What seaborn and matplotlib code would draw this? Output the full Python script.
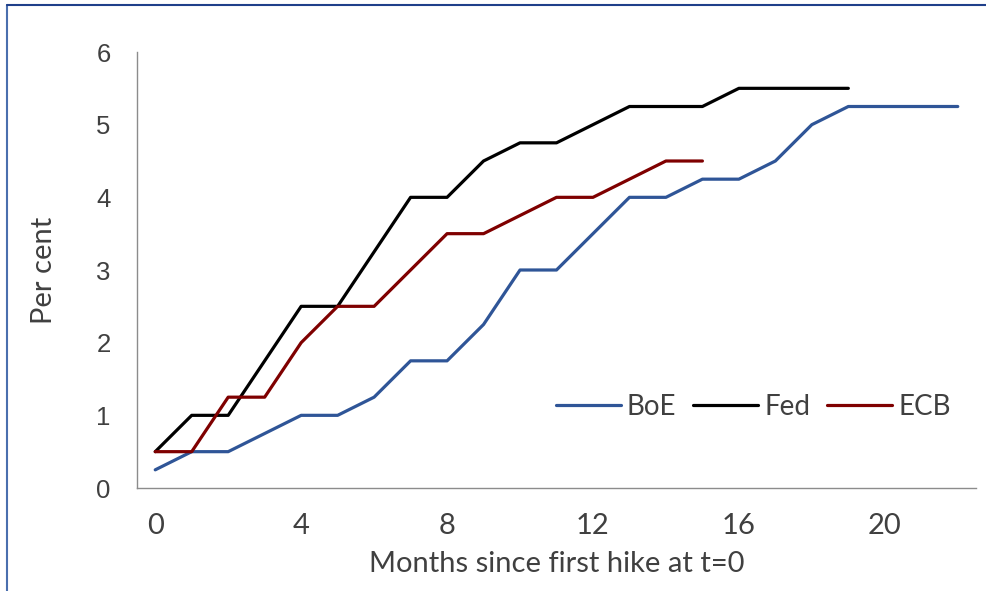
import numpy as np
import pandas as pd
import matplotlib
matplotlib.use("Agg")
import matplotlib.pyplot as plt
import seaborn as sns
from matplotlib.lines import Line2D

# ---- data ----
months_boe = list(range(0, 23))
boe = [0.25, 0.5, 0.5, 0.75, 1.0, 1.0, 1.25, 1.75, 1.75, 2.25, 3.0, 3.0,
       3.5, 4.0, 4.0, 4.25, 4.25, 4.5, 5.0, 5.25, 5.25, 5.25, 5.25]
months_fed = list(range(0, 20))
fed = [0.5, 1.0, 1.0, 1.75, 2.5, 2.5, 3.25, 4.0, 4.0, 4.5, 4.75, 4.75,
       5.0, 5.25, 5.25, 5.25, 5.5, 5.5, 5.5, 5.5]
months_ecb = list(range(0, 16))
ecb = [0.5, 0.5, 1.25, 1.25, 2.0, 2.5, 2.5, 3.0, 3.5, 3.5, 3.75, 4.0,
       4.0, 4.25, 4.5, 4.5]
series_names = ["BoE", "Fed", "ECB"]
x_tick_labels = ["0", "4", "8", "12", "16", "20"]
y_ticks = [0, 1, 2, 3, 4, 5, 6]

df = pd.concat([
    pd.DataFrame({"month": months_boe, "rate": boe, "bank": "BoE"}),
    pd.DataFrame({"month": months_fed, "rate": fed, "bank": "Fed"}),
    pd.DataFrame({"month": months_ecb, "rate": ecb, "bank": "ECB"}),
], ignore_index=True)

sns.set_style("white")
plt.rcParams["font.family"] = ["Lato", "DejaVu Sans"]

colors = {"BoE": "#2f5597", "Fed": "#000000", "ECB": "#7f0000"}
text_c = "#404040"
axis_c = "#8c8c8c"
fs = 21

fig = plt.figure(figsize=(9.87, 5.91), dpi=100)
ax = fig.add_axes([137 / 987, 1 - 488 / 591, (976 - 137) / 987, (488 - 52) / 591])

sns.lineplot(data=df, x="month", y="rate", hue="bank", hue_order=series_names,
             palette=colors, linewidth=2.3, ax=ax, legend=True, sort=False,
             estimator=None)

ax.set_xlim(-0.5, 22.5)
ax.set_ylim(0, 6)

# x: tick marks at category boundaries, labels at category centres
tick_vals = [int(t) for t in x_tick_labels]
ax.set_xticks([v - 0.5 for v in tick_vals])
ax.set_xticklabels([])
ax.set_xticks(tick_vals, minor=True)
ax.set_xticklabels(x_tick_labels, minor=True, fontsize=fs, color=text_c,
                   family=["Lato", "DejaVu Sans"])
ax.tick_params(axis="x", which="major", direction="out", length=6.5,
               width=1, color=axis_c)
ax.tick_params(axis="x", which="minor", length=0, pad=18)

ax.set_yticks(y_ticks)
ax.set_yticklabels([str(v) for v in y_ticks], fontsize=18.5, color=text_c,
                   family=["Liberation Sans", "DejaVu Sans"])
ax.tick_params(axis="y", direction="in", length=6.5, width=1, color=axis_c,
               pad=19)

for s in ["top", "right"]:
    ax.spines[s].set_visible(False)
for s in ["left", "bottom"]:
    ax.spines[s].set_color(axis_c)
    ax.spines[s].set_linewidth(1)

ax.set_xlabel("Months since first hike at t=0", fontsize=fs, color=text_c,
              labelpad=9)
ax.set_ylabel("Per cent", fontsize=fs, color=text_c, labelpad=28)

leg = ax.legend(loc="center right", bbox_to_anchor=((951 - 137) / 839, (488 - 407) / 436),
                ncol=3, frameon=False, fontsize=20, handlelength=2.35,
                handletextpad=0.22, columnspacing=0.6, borderaxespad=0,
                borderpad=0)
for t in leg.get_texts():
    t.set_color(text_c)
for h in leg.get_lines():
    h.set_linewidth(2.3)

# figure frame (top and left edges visible)
fig.add_artist(Line2D([6.5 / 987, 6.5 / 987], [0, 1 - 4.5 / 591],
                      transform=fig.transFigure, color="#4a6fae", lw=1.5))
fig.add_artist(Line2D([6.5 / 987, 1], [1 - 4.5 / 591, 1 - 4.5 / 591],
                      transform=fig.transFigure, color="#1f3f8a", lw=1.5))

fig.savefig("out.png", dpi=100)
